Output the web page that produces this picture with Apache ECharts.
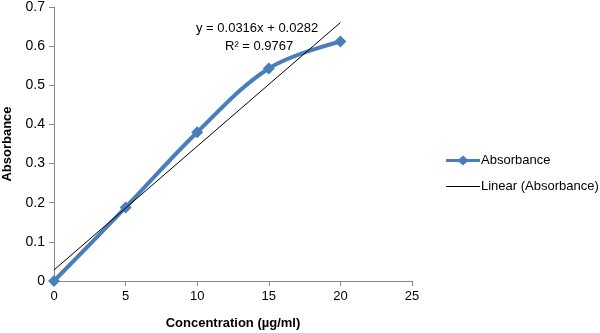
<!DOCTYPE html>
<html>
<head>
<meta charset="utf-8">
<script src="https://cdn.jsdelivr.net/npm/echarts@6/dist/echarts.min.js"></script>
<style>
  html, body { margin: 0; padding: 0; background: #fff; }
  #main { width: 600px; height: 333px; }
</style>
</head>
<body>
<div id="main"></div>
<script>
// concentration / absorbance readings
var conc = [0, 5, 10, 15, 20];
var absorb = [0, 0.188, 0.380, 0.543, 0.612];
// linear trendline y = 0.0316x + 0.0282, drawn over 0..20
var slope = 0.0316;
var intercept = 0.0282;
var trendX = [0, 20];
var eqText = 'y = 0.0316x + 0.0282';
var r2Text = 'R² = 0.9767';

var myChart = echarts.init(document.getElementById('main'));

var absData = [];
for (var i = 0; i < conc.length; i++) {
    absData.push([conc[i], absorb[i]]);
}
var trendData = [];
for (var j = 0; j < trendX.length; j++) {
    trendData.push([trendX[j], slope * trendX[j] + intercept]);
}

var font = 'Liberation Sans';

myChart.setOption({
    animation: false,
    textStyle: { fontFamily: font },
    grid: {
        left: 54,
        right: 188,
        top: 7,
        bottom: 52,
        containLabel: false,
        outerBoundsMode: 'none'
    },
    legend: {
        orient: 'vertical',
        left: 441,
        top: 149,
        itemGap: 13,
        itemWidth: 34,
        itemHeight: 10,
        textStyle: { fontSize: 13, color: '#000', fontFamily: font, padding: [0, 0, 0, -4] },
        data: [
            { name: 'Absorbance', icon: 'path://M0,3.5 L13,3.5 L17,0 L21,3.5 L34,3.5 L34,6.5 L21,6.5 L17,10 L13,6.5 L0,6.5 Z' },
            { name: 'Linear (Absorbance)', icon: 'path://M0,4.6 L34,4.6 L34,5.4 L0,5.4 Z', itemStyle: { color: '#000' } }
        ]
    },
    xAxis: {
        type: 'value',
        min: 0,
        max: 25,
        interval: 5,
        name: 'Concentration (µg/ml)',
        nameLocation: 'middle',
        nameGap: 36,
        nameTextStyle: { fontWeight: 'bold', fontSize: 13, color: '#000' },
        axisLine: { lineStyle: { color: '#888' } },
        axisTick: { show: true, length: 5, lineStyle: { color: '#888' } },
        axisLabel: { fontSize: 13, color: '#000', margin: 9 },
        splitLine: { show: false }
    },
    yAxis: {
        type: 'value',
        min: 0,
        max: 0.7,
        interval: 0.1,
        name: 'Absorbance',
        nameLocation: 'middle',
        nameGap: 40,
        nameTextStyle: { fontWeight: 'bold', fontSize: 13, color: '#000' },
        axisLine: { show: true, lineStyle: { color: '#888' } },
        axisTick: { show: true, length: 5, lineStyle: { color: '#888' } },
        axisLabel: { fontSize: 14, color: '#000', margin: 9 },
        splitLine: { show: false }
    },
    series: [
        {
            name: 'Absorbance',
            type: 'line',
            data: absData,
            smooth: 0.35,
            symbol: 'diamond',
            symbolSize: 12,
            lineStyle: { color: '#4a7ebb', width: 4 },
            itemStyle: { color: '#4a7ebb' },
            z: 3
        },
        {
            name: 'Linear (Absorbance)',
            type: 'line',
            data: trendData,
            symbol: 'none',
            lineStyle: { color: '#000', width: 1 },
            itemStyle: { color: '#000' },
            z: 4
        }
    ],
    graphic: [
        {
            type: 'text',
            left: 196,
            top: 22,
            style: { text: eqText, font: '13px ' + font, fill: '#000' }
        },
        {
            type: 'text',
            left: 225,
            top: 40,
            style: { text: r2Text, font: '13px ' + font, fill: '#000' }
        }
    ]
});
</script>
</body>
</html>
